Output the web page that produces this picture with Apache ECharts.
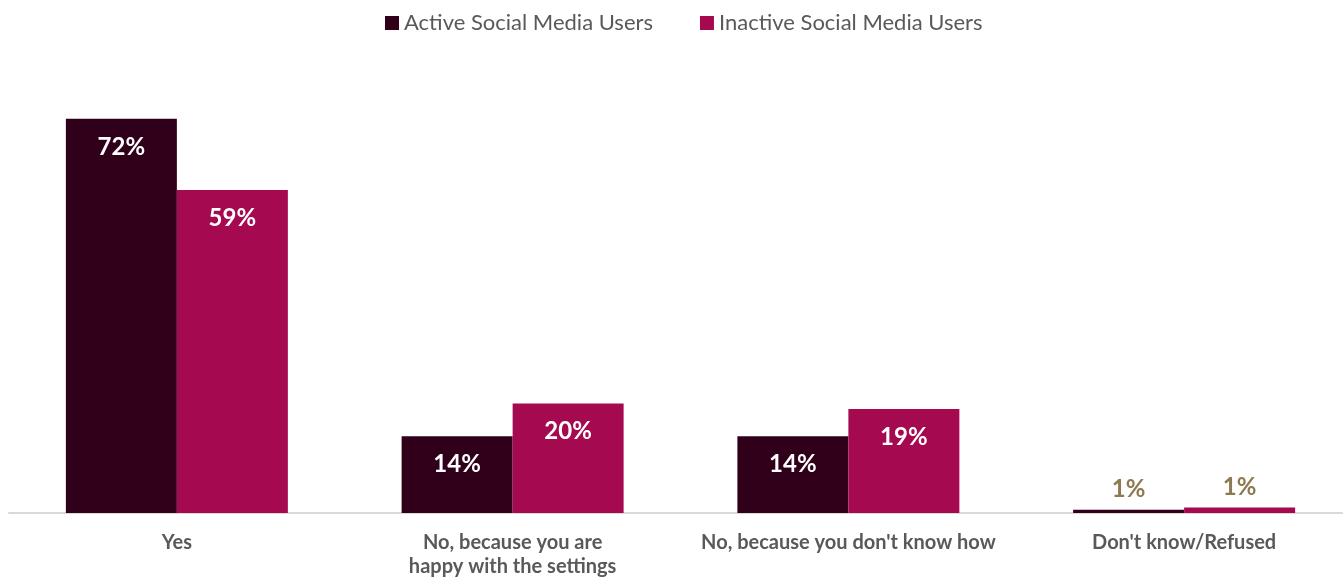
<!DOCTYPE html>
<html>
<head>
<meta charset="utf-8">
<script src="https://cdn.jsdelivr.net/npm/echarts@6/dist/echarts.min.js"></script>
<style>html,body{margin:0;padding:0;background:#fff;}#c{width:1343px;height:578px;}</style>
</head>
<body>
<div id="c"></div>
<script>
var categories = ["Yes", "No, because you are\nhappy with the settings", "No, because you don't know how", "Don't know/Refused"];
var seriesNames = ["Active Social Media Users", "Inactive Social Media Users"];
var activeValues = [72, 14, 14, 0.6];
var inactiveValues = [59, 20, 19, 1];

var chart = echarts.init(document.getElementById('c'));
function lbl(p) { return Math.round(p.value) + '%'; }
function mkData(vals) {
  return vals.map(function (v) {
    if (v < 3) {
      return { value: v, label: { position: 'top', distance: 8, color: '#8E7A50' } };
    }
    return v;
  });
}
var font = 'Lato, "Open Sans", sans-serif';
chart.setOption({
  animation: false,
  legend: {
    top: 7,
    left: 380,
    itemWidth: 14,
    itemHeight: 14,
    itemGap: 47,
    icon: 'rect',
    textStyle: { fontFamily: font, fontSize: 22, color: '#595959', padding: [0, 0, 0, 0] },
    data: seriesNames
  },
  grid: { left: 9, right: -9, top: 75, bottom: 65, containLabel: false, outerBoundsMode: 'none' },
  xAxis: {
    type: 'category',
    data: categories,
    axisLine: { lineStyle: { color: '#D9D9D9', width: 2 } },
    axisTick: { show: false },
    axisLabel: { fontFamily: font, fontSize: 20, fontWeight: 'bold', color: '#595959', margin: 18, lineHeight: 24, interval: 0 }
  },
  yAxis: { type: 'value', min: 0, max: 80, show: false, splitLine: { show: false } },
  series: [
    {
      name: seriesNames[0], type: 'bar', data: mkData(activeValues),
      barWidth: 111, barGap: '0%',
      itemStyle: { color: '#30001A' },
      label: { show: true, position: 'insideTop', distance: 16, formatter: lbl, color: '#fff', fontFamily: font, fontSize: 24, fontWeight: 'bold' }
    },
    {
      name: seriesNames[1], type: 'bar', data: mkData(inactiveValues),
      barWidth: 111,
      itemStyle: { color: '#A50A50' },
      label: { show: true, position: 'insideTop', distance: 16, formatter: lbl, color: '#fff', fontFamily: font, fontSize: 24, fontWeight: 'bold' }
    }
  ]
});
</script>
</body>
</html>
